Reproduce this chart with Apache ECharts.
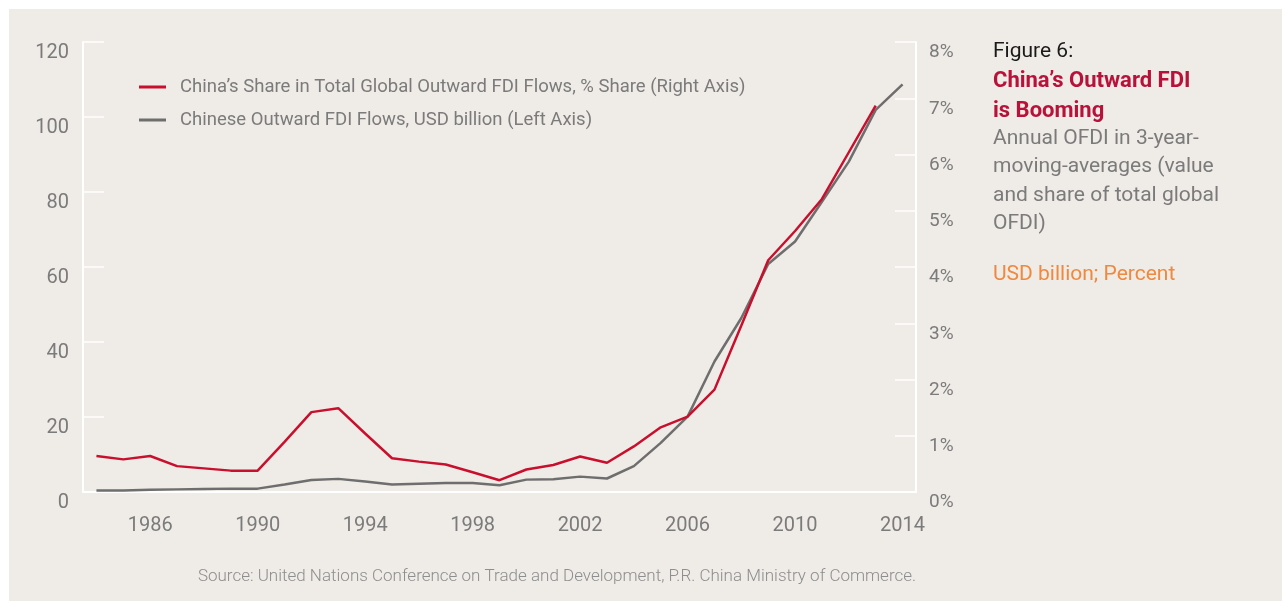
<!DOCTYPE html>
<html>
<head>
<meta charset="utf-8">
<script src="https://cdn.jsdelivr.net/npm/echarts@6/dist/echarts.min.js"></script>
<style>
  html, body { margin: 0; padding: 0; background: #ffffff; }
  #chart { position: absolute; left: 9px; top: 9px; width: 1273px; height: 592px; }
</style>
</head>
<body>
<div id="chart"></div>
<script>
// years on the x axis (3-year moving averages)
var years = ['1984','1985','1986','1987','1988','1989','1990','1991','1992','1993',
             '1994','1995','1996','1997','1998','1999','2000','2001','2002','2003',
             '2004','2005','2006','2007','2008','2009','2010','2011','2012','2013','2014'];

// China's share in total global outward FDI flows, % (right axis)
var shareValues = [0.64, 0.58, 0.64, 0.46, 0.42, 0.38, 0.38, 0.89, 1.42, 1.49,
                   1.04, 0.60, 0.54, 0.49, 0.35, 0.21, 0.40, 0.48, 0.63, 0.52,
                   0.81, 1.15, 1.34, 1.82, 2.96, 4.12, 4.64, 5.21, 6.04, 6.87, null];

// Chinese outward FDI flows, USD billion (left axis)
var flowValues = [0.4, 0.4, 0.6, 0.7, 0.8, 0.9, 0.9, 2.0, 3.2, 3.5,
                  2.8, 2.0, 2.2, 2.4, 2.4, 1.8, 3.3, 3.4, 4.1, 3.6,
                  6.9, 13.1, 20.1, 34.8, 46.4, 60.8, 66.8, 77.4, 88.1, 101.9, 108.7];

var leftTicks = [0, 120, 20];   // min, max, interval
var rightTicks = [0, 8, 1];

var FONT = 'Roboto, "Liberation Sans", sans-serif';
var GREY_TXT = '#7b7b7b';

var myChart = echarts.init(document.getElementById('chart'));

var option = {
  backgroundColor: '#efebe6',
  textStyle: { fontFamily: FONT },
  animation: false,
  grid: { left: 74, top: 33, width: 833, height: 450 },
  legend: {
    orient: 'vertical',
    left: 125,
    top: 63,
    itemWidth: 27,
    itemHeight: 3,
    itemGap: 13,
    icon: 'rect',
    textStyle: { color: GREY_TXT, fontSize: 18.5, fontFamily: FONT, lineHeight: 20, padding: [0, 0, 0, 9] },
    data: ['China\u2019s Share in Total Global Outward FDI Flows, % Share (Right Axis)',
           'Chinese Outward FDI Flows, USD billion (Left Axis)']
  },
  xAxis: {
    type: 'category',
    data: years,
    boundaryGap: true,
    axisLine: { lineStyle: { color: '#ffffff', width: 2 } },
    axisTick: { show: false },
    axisLabel: {
      color: GREY_TXT, fontSize: 20, margin: 24,
      interval: function (idx) { return (idx - 2) % 4 === 0; }
    },
    splitLine: { show: false }
  },
  yAxis: [
    {
      type: 'value', position: 'left',
      min: leftTicks[0], max: leftTicks[1], interval: leftTicks[2],
      axisLine: { show: true, lineStyle: { color: '#ffffff', width: 2 } },
      axisTick: { show: true, inside: true, length: 21, lineStyle: { color: '#ffffff', width: 1.5 } },
      axisLabel: { color: GREY_TXT, fontSize: 20, margin: 14, verticalAlign: 'top', padding: [1, 0, 0, 0] },
      splitLine: { show: false }
    },
    {
      type: 'value', position: 'right',
      min: rightTicks[0], max: rightTicks[1], interval: rightTicks[2],
      axisLine: { show: true, lineStyle: { color: '#ffffff', width: 2 } },
      axisTick: { show: true, inside: true, length: 21, lineStyle: { color: '#ffffff', width: 1.5 } },
      axisLabel: { color: GREY_TXT, fontSize: 19, margin: 13, verticalAlign: 'top', padding: [1, 0, 0, 0], formatter: '{value}%' },
      splitLine: { show: false }
    }
  ],
  series: [
    {
      name: 'China\u2019s Share in Total Global Outward FDI Flows, % Share (Right Axis)',
      type: 'line',
      yAxisIndex: 1,
      data: shareValues,
      showSymbol: false,
      color: '#c8102e',
      lineStyle: { width: 2.5, color: '#c8102e' },
      z: 3
    },
    {
      name: 'Chinese Outward FDI Flows, USD billion (Left Axis)',
      type: 'line',
      yAxisIndex: 0,
      data: flowValues,
      showSymbol: false,
      color: '#6e6e6e',
      lineStyle: { width: 2.5, color: '#6e6e6e' },
      z: 2
    }
  ],
  graphic: [
    { type: 'text', x: 984, y: 43, style: { text: 'Figure 6:', fill: '#1a1a1a', font: '21px ' + FONT, textVerticalAlign: 'middle' } },
    { type: 'text', x: 984, y: 57, style: { text: 'China\u2019s Outward FDI\nis Booming', fill: '#b8123a', font: 'bold 22px ' + FONT, lineHeight: 30 } },
    { type: 'text', x: 984, y: 115.5, style: { text: 'Annual OFDI in 3-year-\nmoving-averages (value\nand share of total global\nOFDI)', fill: '#7b7b7b', font: '21px ' + FONT, lineHeight: 28.3 } },
    { type: 'text', x: 984, y: 266, style: { text: 'USD billion; Percent', fill: '#f0883e', font: '21px ' + FONT, textVerticalAlign: 'middle' } },
    { type: 'text', x: 548, y: 568, style: { text: 'Source: United Nations Conference on Trade and Development, P.R. China Ministry of Commerce.', fill: '#8e8e8e', font: '300 17px ' + FONT, textAlign: 'center', textVerticalAlign: 'middle' } }
  ]
};

myChart.setOption(option);
</script>
</body>
</html>
